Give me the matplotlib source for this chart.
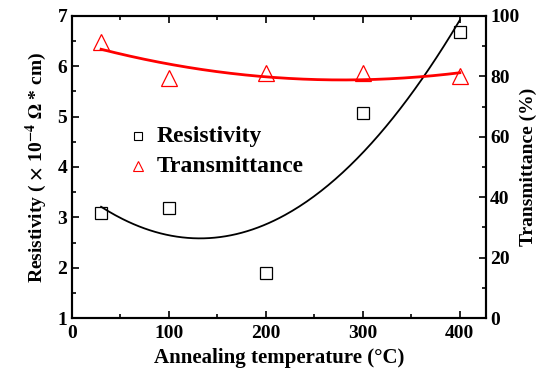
import numpy as np
import matplotlib
matplotlib.use("Agg")
import matplotlib.pyplot as plt

plt.rcParams['font.family'] = 'Liberation Serif'
plt.rcParams['font.weight'] = 'bold'
plt.rcParams['mathtext.fontset'] = 'stix'

# data
temp = [30, 100, 200, 300, 400]
resistivity = [3.08, 3.18, 1.90, 5.08, 6.68]
transmittance = [91.5, 79.5, 81.0, 81.0, 80.0]

# quadratic trend lines
tx = np.linspace(30, 400, 200)
res_fit = np.polyval(np.polyfit(temp, resistivity, 2), tx)
tra_fit = np.polyval(np.polyfit(temp, transmittance, 2), tx)

fig = plt.figure(figsize=(5.39, 3.74), dpi=100)
ax = fig.add_axes([0.1336, 0.1497, 0.7681, 0.8076])
ax2 = ax.twinx()

ax.plot(tx, res_fit, color='black', lw=1.3)
ax.plot(temp, resistivity, ls='none', marker='s', ms=9, mfc='none',
        mec='black', mew=0.9)
ax2.plot(tx, tra_fit, color='red', lw=2)
ax2.plot(temp, transmittance, ls='none', marker='^', ms=11, mfc='none',
         mec='red', mew=0.9)

ax.set_xlim(0, 427)
ax.set_ylim(1, 7)
ax2.set_ylim(0, 100)
ax.set_xticks([0, 100, 200, 300, 400])
ax.set_xticks(np.arange(50, 427, 100), minor=True)
ax.set_yticks(range(1, 8))
ax.set_yticks(np.arange(1.5, 7, 1), minor=True)
ax2.set_yticks(range(0, 101, 20))
ax2.set_yticks(range(10, 100, 20), minor=True)

ax.tick_params(which='both', direction='in', top=True, labelsize=14, width=1.2)
ax.tick_params(which='major', length=5)
ax.tick_params(which='minor', length=3)
ax.tick_params(axis='x', pad=5)
ax2.tick_params(which='both', direction='in', labelsize=14, width=1.2, pad=3)
ax2.tick_params(which='major', length=5)
ax2.tick_params(which='minor', length=3)
for a in (ax, ax2):
    for s in a.spines.values():
        s.set_linewidth(1.5)

ax.set_xlabel('Annealing temperature (°C)', fontsize=15, fontweight='bold', labelpad=4)
ax.set_ylabel(r'Resistivity ( $\times$ 10$^{-4}$ $\mathbf{\Omega}$ * cm)',
              fontsize=14, fontweight='bold', labelpad=6)
ax2.set_ylabel('Transmittance (%)', fontsize=14, fontweight='bold', labelpad=0)

# legend drawn by hand as in the original
ax.plot([68], [4.61], ls='none', marker='s', ms=6, mfc='none', mec='black', mew=0.8)
ax.text(87, 4.61, 'Resistivity', fontsize=17, fontweight='bold', va='center')
ax.plot([68], [4.01], ls='none', marker='^', ms=7, mfc='none', mec='red', mew=0.8)
ax.text(87, 4.01, 'Transmittance', fontsize=17, fontweight='bold', va='center')

fig.savefig('out.png', dpi=100)
